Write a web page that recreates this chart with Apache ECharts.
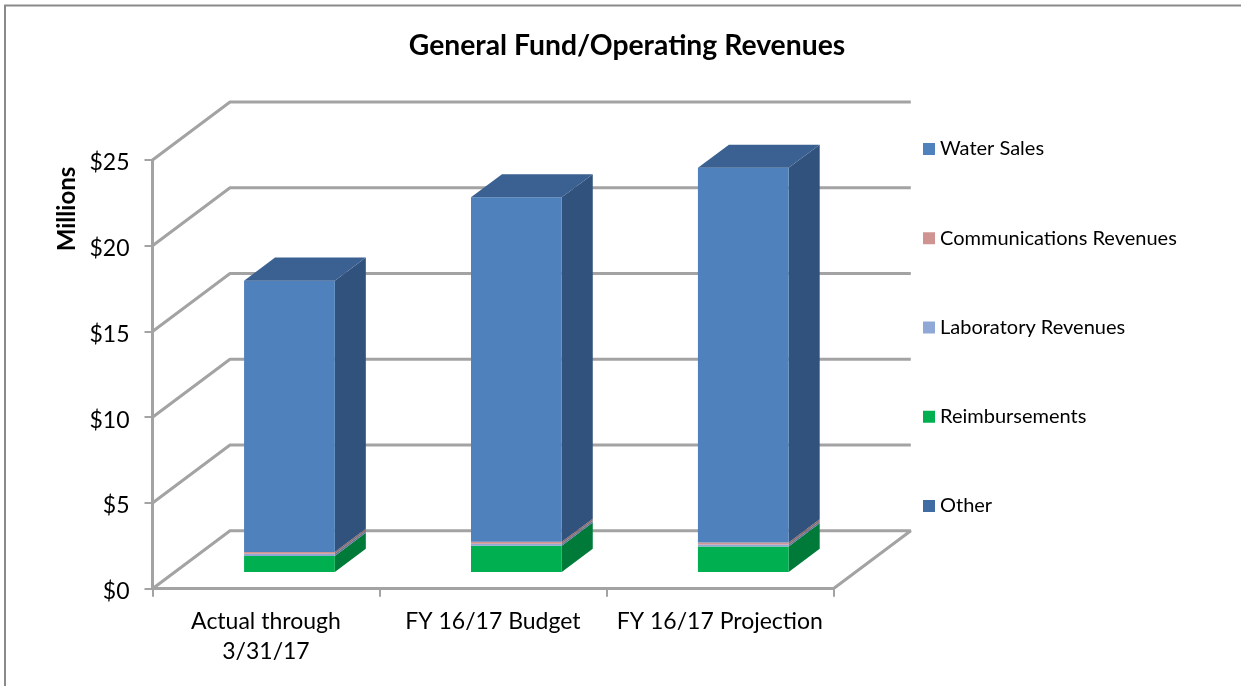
<!DOCTYPE html>
<html><head><meta charset="utf-8">
<style>html,body{margin:0;padding:0;background:#fff}#c{width:1241px;height:686px}</style>
<script src="https://cdn.jsdelivr.net/npm/echarts@6/dist/echarts.min.js"></script>
</head><body><div id="c"></div>
<script>
const categories = ['Actual through\n3/31/17', 'FY 16/17 Budget', 'FY 16/17 Projection'];
const other = [0, 0, 0];
const reimbursements = [0.93, 1.52, 1.48];
const laboratory = [0.12, 0.12, 0.12];
const communications = [0.11, 0.11, 0.12];
const waterSales = [15.82, 20.09, 21.84];
const yTicks = [0, 5, 10, 15, 20, 25];

// bottom-to-top stacking order
const stack = [
  {name: 'Other', values: other, front: '#3F6CA3', side: '#2C4C73', top: '#365D8C'},
  {name: 'Reimbursements', values: reimbursements, front: '#00B050', side: '#007A38', top: '#009544'},
  {name: 'Laboratory Revenues', values: laboratory, front: '#8FA8D5', side: '#64769A', top: '#7A8FB5'},
  {name: 'Communications Revenues', values: communications, front: '#CF9492', side: '#916866', top: '#B07E7C'},
  {name: 'Water Sales', values: waterSales, front: '#4F81BD', side: '#31527C', top: '#3A6191'}
];
const legendOrder = ['Water Sales', 'Communications Revenues', 'Laboratory Revenues', 'Reimbursements', 'Other'];

// oblique projection of the chart box: depth vector of the whole floor, bar placement inside it
const DEPTH = {dx: 77.5, dy: -58};
const BAR = {widthFrac: 0.4, nearFracX: 0.303, nearFracY: 0.29, depthFrac: 0.4};
const GRID_COLOR = '#A3A3A3';
const LINE_W = 3;

function wallItem(params, api) {
  const v = api.value(0);
  const cs = params.coordSys;
  const y = api.coord([0, v])[1];
  const x0 = cs.x, x1 = cs.x + cs.width;
  const pts = [[x0, y], [x0 + DEPTH.dx, y + DEPTH.dy], [x1 + DEPTH.dx, y + DEPTH.dy]];
  if (v === 0) pts.push([x1, y]);
  return {type: 'polyline', shape: {points: pts}, style: {stroke: GRID_COLOR, lineWidth: LINE_W, fill: null, lineJoin: 'bevel'}, silent: true};
}

function barItem(s) {
  return function (params, api) {
    const cat = api.value(0), lo = api.value(1), hi = api.value(2);
    if (hi <= lo) return {type: 'group', children: []};
    const band = api.size([1, 0])[0];
    const c0 = api.coord([cat, lo]), c1 = api.coord([cat, hi]);
    const w = band * BAR.widthFrac;
    const nx = DEPTH.dx * BAR.nearFracX, ny = DEPTH.dy * BAR.nearFracY;
    const fx = DEPTH.dx * BAR.depthFrac, fy = DEPTH.dy * BAR.depthFrac;
    const l = c0[0] - w / 2 + nx, r = l + w;
    const b = c0[1] + ny, t = c1[1] + ny;
    const isTop = s.name === 'Water Sales';
    const children = [
      {type: 'polygon', shape: {points: [[r, b], [r + fx, b + fy], [r + fx, t + fy], [r, t]]}, style: {fill: s.side}},
      {type: 'rect', shape: {x: l, y: t, width: w, height: b - t}, style: {fill: s.front}}
    ];
    if (isTop) children.push({type: 'polygon', shape: {points: [[l, t], [l + fx, t + fy], [r + fx, t + fy], [r, t]]}, style: {fill: s.top}});
    return {type: 'group', children};
  };
}

let cum = categories.map(() => 0);
const barSeries = stack.map(s => {
  const data = s.values.map((v, i) => { const d = [i, cum[i], cum[i] + v]; cum[i] += v; return d; });
  return {
    type: 'custom', name: s.name, data, z: 5,
    encode: {x: 0, y: [1, 2]},
    itemStyle: {color: s.front},
    renderItem: barItem(s)
  };
});

const font = 'Lato, "Open Sans", sans-serif';
const chart = echarts.init(document.getElementById('c'), null, {renderer: 'canvas'});
chart.setOption({
  animation: false,
  backgroundColor: '#fff',
  title: {
    text: 'General Fund/Operating Revenues', left: 622, top: 27, textAlign: 'center',
    textStyle: {fontFamily: font, fontWeight: 'bold', fontSize: 28.3, color: '#000'}
  },
  legend: {
    orient: 'vertical', left: 918, top: 132, data: legendOrder,
    icon: 'rect', itemWidth: 12, itemHeight: 12, itemGap: 65.25,
    selectedMode: false,
    textStyle: {fontFamily: font, fontSize: 20, color: '#000', lineHeight: 24, padding: [0, 0, 0, 0]}
  },
  grid: {left: 152.5, right: 407.7, top: 160, bottom: 97.3, containLabel: false},
  xAxis: {
    type: 'category', data: categories,
    axisLine: {lineStyle: {color: GRID_COLOR, width: LINE_W}},
    axisTick: {show: true, alignWithLabel: false, length: 8, lineStyle: {color: GRID_COLOR, width: 2}},
    axisLabel: {fontFamily: font, fontSize: 23, color: '#000', margin: 18, lineHeight: 30, interval: 0},
    splitLine: {show: false}
  },
  yAxis: {
    type: 'value', min: 0, max: 25, interval: 5,
    axisLine: {show: true, lineStyle: {color: GRID_COLOR, width: LINE_W}},
    axisTick: {show: true, length: 8, lineStyle: {color: GRID_COLOR, width: 2}},
    axisLabel: {fontFamily: font, fontSize: 23, color: '#000', margin: 23, verticalAlign: 'top', lineHeight: 6, formatter: v => '$' + v},
    splitLine: {show: false}
  },
  series: [{
    type: 'custom', name: 'walls', z: 1, silent: true,
    data: yTicks.map(v => [v]), encode: {y: 0},
    renderItem: wallItem
  }].concat(barSeries),
  graphic: [
    {type: 'text', rotation: Math.PI / 2, x: 67, y: 209, z: 10, style: {text: 'Millions', fontFamily: font, fontWeight: 'bold', fontSize: 24, fill: '#000', textAlign: 'center', textVerticalAlign: 'middle'}},
    {type: 'line', z: 0, shape: {x1: 4, y1: 5.5, x2: 1241, y2: 5.5}, style: {stroke: '#8A8A8A', lineWidth: 2}},
    {type: 'line', z: 0, shape: {x1: 5, y1: 5, x2: 5, y2: 686}, style: {stroke: '#8A8A8A', lineWidth: 2}}
  ]
});
</script></body></html>
